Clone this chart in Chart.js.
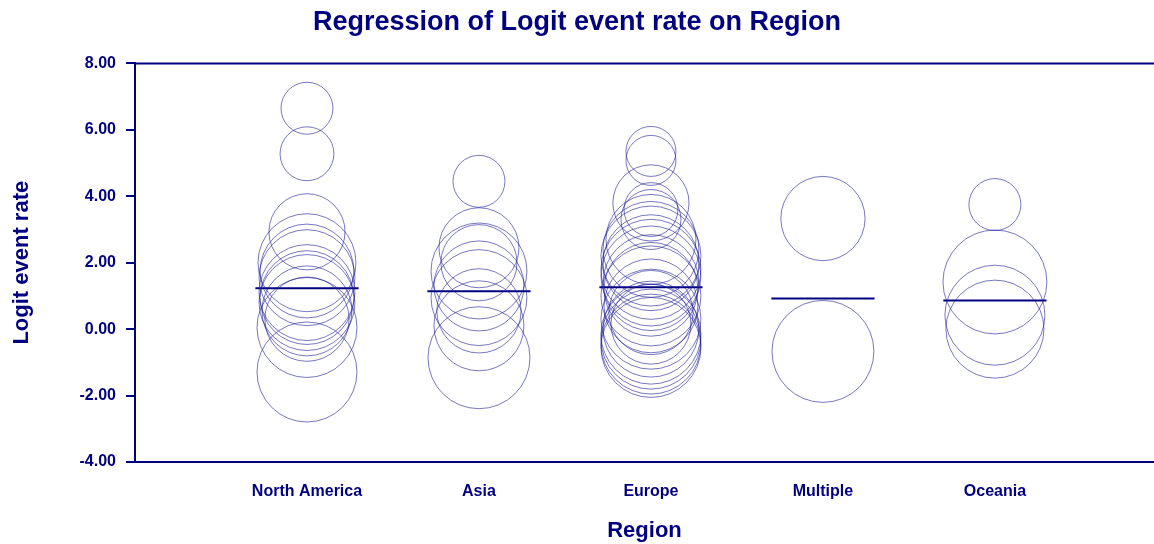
<!DOCTYPE html>
<html>
<head>
<meta charset="utf-8">
<script src="https://cdn.jsdelivr.net/npm/chart.js@4/dist/chart.umd.min.js"></script>
<style>
  body { margin: 0; background: #fff; }
  #wrap { width: 1154px; height: 544px; }
</style>
</head>
<body>
<div id="wrap"><canvas id="mycanvas"></canvas></div>
<script>
// categories and tick labels
var regions = ['North America', 'Asia', 'Europe', 'Multiple', 'Oceania'];
var yTicks = [-4, -2, 0, 2, 4, 6, 8];

// logit event rate per study, and study weight, by region
var naLogit  = [6.65, 5.28, 2.93, 2.0, 1.75, 1.55, 1.1, 0.95, 0.8, 0.55, 0.3, 0.05, -1.29];
var naWeight = [27, 29, 58, 96, 88, 92, 92, 88, 92, 81, 71, 100, 100];

var asLogit  = [4.45, 2.45, 2.0, 1.75, 1.3, 0.95, 0.55, 0.1, -0.86];
var asWeight = [27, 64, 58, 92, 81, 92, 71, 81, 104];

var euLogit  = [5.35, 5.08, 3.8, 3.6, 3.3, 2.7, 2.4, 2.2, 2.0, 1.8, 1.6, 1.4, 1.2, 1.0, 0.7, 0.5, 0.3, 0.15, 0.0, -0.15, -0.3, -0.45, -0.55];
var euWeight = [25, 25, 58, 29, 36, 81, 92, 100, 92, 100, 100, 92, 88, 100, 88, 71, 100, 64, 92, 100, 100, 100, 100];

var muLogit  = [3.33, -0.67];
var muWeight = [71, 104];

var ocLogit  = [3.75, 1.42, 0.42, 0.0];
var ocWeight = [27, 108, 100, 96];

// fitted value of the regression for each region
var fitted = [1.23, 1.14, 1.26, 0.92, 0.86];

var navy = '#000080';
var circleColor = 'rgba(30, 30, 150, 0.6)';
var font = 'Liberation Sans, Arial, sans-serif';

function bubbles(idx, logit, weight) {
  var pts = [];
  for (var i in logit) {
    pts.push({ x: idx + 1, y: logit[i], r: Math.sqrt(weight[i]) * 5 });
  }
  return {
    type: 'bubble',
    data: pts,
    borderColor: circleColor,
    backgroundColor: 'rgba(0,0,0,0)',
    borderWidth: 1,
    hoverRadius: 0
  };
}

var datasets = [
  bubbles(0, naLogit, naWeight),
  bubbles(1, asLogit, asWeight),
  bubbles(2, euLogit, euWeight),
  bubbles(3, muLogit, muWeight),
  bubbles(4, ocLogit, ocWeight)
];

for (var i in fitted) {
  var c = Number(i) + 1;
  datasets.push({
    type: 'line',
    data: [{ x: c - 0.3, y: fitted[i] }, { x: c + 0.3, y: fitted[i] }],
    borderColor: navy,
    borderWidth: 2,
    pointRadius: 0,
    fill: false
  });
}

// line along the top of the plot area
var topLine = {
  id: 'topLine',
  afterDraw: function(chart) {
    var a = chart.chartArea, ctx = chart.ctx;
    ctx.save();
    ctx.strokeStyle = navy;
    ctx.lineWidth = 2;
    ctx.beginPath();
    ctx.moveTo(a.left, a.top);
    ctx.lineTo(a.right, a.top);
    ctx.stroke();
    ctx.restore();
  }
};

var ctx = document.getElementById('mycanvas');

new Chart(ctx, {
  type: 'bubble',
  data: { datasets: datasets },
  plugins: [topLine],
  options: {
    responsive: true,
    maintainAspectRatio: false,
    animation: false,
    layout: { padding: 0, autoPadding: false },
    plugins: {
      legend: { display: false },
      tooltip: { enabled: false },
      title: {
        display: true,
        text: 'Regression of Logit event rate on Region',
        color: navy,
        font: { family: font, size: 27, weight: 'bold' },
        padding: { top: 6, bottom: 25 }
      }
    },
    scales: {
      x: {
        type: 'linear',
        min: 0,
        max: 5.925,
        afterBuildTicks: function(scale) {
          scale.ticks = regions.map(function(r, i) { return { value: i + 1 }; });
        },
        afterFit: function(scale) { scale.height = 82; },
        ticks: {
          autoSkip: false,
          maxRotation: 0,
          padding: 20,
          color: navy,
          font: { family: font, size: 16, weight: 'bold' },
          callback: function(v) { return regions[v - 1]; }
        },
        grid: { display: true, drawOnChartArea: false, drawTicks: false },
        border: { display: true, color: navy, width: 2 },
        title: {
          display: true,
          text: 'Region',
          color: navy,
          font: { family: font, size: 22, weight: 'bold' },
          padding: { top: 0, bottom: 0 }
        }
      },
      y: {
        min: yTicks[0],
        max: yTicks[yTicks.length - 1],
        afterBuildTicks: function(scale) {
          scale.ticks = yTicks.map(function(v) { return { value: v }; });
        },
        afterFit: function(scale) { scale.width = 135; },
        ticks: {
          padding: 10,
          color: navy,
          font: { family: font, size: 16, weight: 'bold' },
          callback: function(v) { return v.toFixed(2); }
        },
        grid: { drawOnChartArea: false, drawTicks: true, tickLength: 9, color: navy, lineWidth: 2 },
        border: { display: true, color: navy, width: 2 },
        title: {
          display: true,
          text: 'Logit event rate',
          color: navy,
          font: { family: font, size: 22, weight: 'bold' },
          padding: { top: 9, bottom: 0 }
        }
      }
    }
  }
});
</script>
</body>
</html>
